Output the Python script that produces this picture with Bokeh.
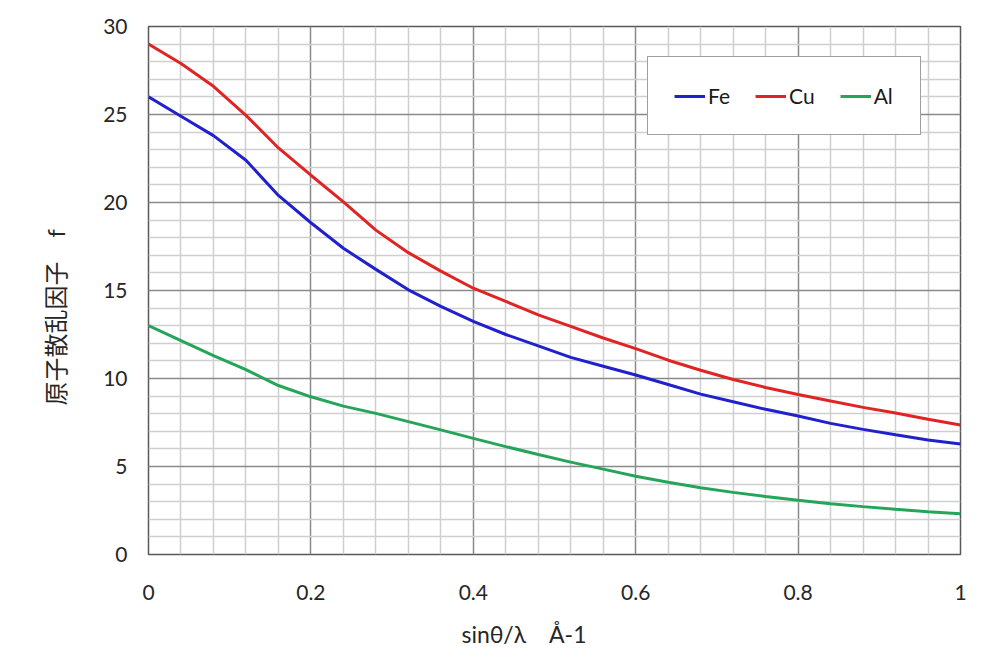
from bokeh.plotting import figure
from bokeh.models import FixedTicker, NumeralTickFormatter, Legend, LegendItem, Title, Range1d
from bokeh.embed import file_html
from bokeh.resources import INLINE

# data
x_vals = [0, 0.04, 0.08, 0.12, 0.16, 0.2, 0.24, 0.28, 0.32, 0.36, 0.4, 0.44, 0.48, 0.52,
          0.56, 0.6, 0.64, 0.68, 0.72, 0.76, 0.8, 0.84, 0.88, 0.92, 0.96, 1.0]
fe_vals = [26.0, 24.9, 23.8, 22.4, 20.4, 18.85, 17.4, 16.2, 15.04, 14.1, 13.25, 12.5, 11.85, 11.2,
           10.7, 10.2, 9.66, 9.11, 8.68, 8.25, 7.87, 7.45, 7.11, 6.8, 6.51, 6.28]
cu_vals = [29.0, 27.9, 26.6, 24.95, 23.1, 21.55, 20.04, 18.43, 17.15, 16.1, 15.13, 14.38, 13.62, 12.96,
           12.3, 11.7, 11.04, 10.47, 9.94, 9.49, 9.09, 8.72, 8.36, 8.04, 7.68, 7.36]
al_vals = [13.0, 12.15, 11.3, 10.5, 9.6, 8.96, 8.43, 8.02, 7.55, 7.08, 6.6, 6.13, 5.68, 5.25,
           4.85, 4.45, 4.11, 3.79, 3.53, 3.3, 3.08, 2.89, 2.72, 2.57, 2.43, 2.32]
series_names = ["Fe", "Cu", "Al"]
x_major = [0, 0.2, 0.4, 0.6, 0.8, 1.0]
x_minor = [0.04, 0.08, 0.12, 0.16, 0.24, 0.28, 0.32, 0.36, 0.44, 0.48, 0.52, 0.56,
           0.64, 0.68, 0.72, 0.76, 0.84, 0.88, 0.92, 0.96]
y_major = [0, 5, 10, 15, 20, 25, 30]
y_minor = [1, 2, 3, 4, 6, 7, 8, 9, 11, 12, 13, 14, 16, 17, 18, 19, 21, 22, 23, 24, 26, 27, 28, 29]
x_title = "sinθ/λ　Å-1"
y_title = "原子散乱因子　f"

FONT = "Lato, 'Noto Sans CJK SC', sans-serif"
colors = ["#2020cc", "#e02424", "#25a55a"]

p = figure(width=1000, height=664, output_backend="svg", toolbar_location=None,
           x_range=Range1d(0, 1), y_range=Range1d(0, 30),
           min_border_left=148, min_border_right=40, min_border_top=26, min_border_bottom=110)
p.background_fill_color = "white"
p.border_fill_color = "white"
p.outline_line_color = "#595959"
p.outline_line_width = 1.5

p.xaxis.ticker = FixedTicker(ticks=x_major, minor_ticks=x_minor)
p.yaxis.ticker = FixedTicker(ticks=y_major, minor_ticks=y_minor)
p.xaxis.formatter = NumeralTickFormatter(format="0.[0]")
for ax in (p.xaxis[0], p.yaxis[0]):
    ax.axis_line_color = None
    ax.major_tick_line_color = None
    ax.minor_tick_line_color = None
    ax.major_label_text_font = FONT
    ax.major_label_text_font_size = "21px"
    ax.major_label_text_color = "#262626"
p.xaxis.major_label_standoff = 24
p.yaxis.major_label_standoff = 15

for g in (p.xgrid[0], p.ygrid[0]):
    g.grid_line_color = "#8a8a8a"
    g.grid_line_width = 1.5
    g.minor_grid_line_color = "#cfcfcf"
    g.minor_grid_line_width = 1.5

renderers = []
for vals, c in zip([fe_vals, cu_vals, al_vals], colors):
    r = p.line(x_vals, vals, line_color=c, line_width=3)
    renderers.append(r)

legend = Legend(items=[LegendItem(label=n, renderers=[r]) for n, r in zip(series_names, renderers)],
                orientation="horizontal", location=(499, 419))
legend.label_text_font = FONT
legend.label_text_font_size = "21px"
legend.label_text_color = "#1a1a1a"
legend.glyph_width = 31
legend.glyph_height = 20
legend.label_standoff = 3
legend.spacing = 25
legend.padding = 26
legend.margin = 0
legend.border_line_color = "#404040"
legend.border_line_width = 1.5
legend.background_fill_color = "white"
legend.background_fill_alpha = 1
p.add_layout(legend, "center")

xt = Title(text=x_title, align="left", offset=313, text_font=FONT, text_font_size="23px",
           text_font_style="normal", text_color="#262626", standoff=30)
p.add_layout(xt, "below")
yt = Title(text=y_title, align="left", offset=149, text_font=FONT, text_font_size="24px",
           text_font_style="normal", text_color="#262626", standoff=62)
p.add_layout(yt, "left")

open("out.html", "w").write(file_html(p, INLINE))
